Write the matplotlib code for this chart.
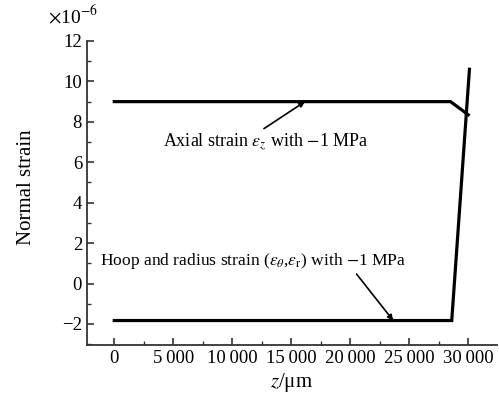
import numpy as np
import matplotlib
matplotlib.use("Agg")
from matplotlib import pyplot as plt
from matplotlib.ticker import MultipleLocator, FuncFormatter

plt.rcParams["font.family"] = ["Liberation Serif", "DejaVu Serif"]
plt.rcParams["mathtext.fontset"] = "stix"

# strain curves (x in um, strain in 1e-6)
axial_z = [0, 28500, 30000]
axial_strain = [9.0, 9.0, 8.35]
hoop_z = [0, 28600, 30100]
hoop_strain = [-1.83, -1.83, 10.6]

x_ticks = [0, 5000, 10000, 15000, 20000, 25000, 30000]
y_ticks = [-2, 0, 2, 4, 6, 8, 10, 12]

fig = plt.figure(figsize=(4.99, 3.98), dpi=100)
ax = fig.add_axes([0.1743, 0.1332, 0.8216, 0.7638])

ax.plot(axial_z, axial_strain, color="black", lw=2.3, solid_joinstyle="miter")
ax.plot(hoop_z, hoop_strain, color="black", lw=2.3, solid_joinstyle="miter")

ax.set_xlim(-2314, 32432)
ax.set_ylim(-3.04, 12)
ax.set_xticks(x_ticks)
ax.set_yticks(y_ticks)
ax.xaxis.set_minor_locator(MultipleLocator(2500))
ax.yaxis.set_minor_locator(MultipleLocator(1))
ax.xaxis.set_major_formatter(FuncFormatter(lambda v, p: f"{int(v):,}".replace(",", "\u2009")))
ax.yaxis.set_major_formatter(FuncFormatter(lambda v, p: f"{int(v)}".replace("-", "\u2212")))

for s in ("top", "right"):
    ax.spines[s].set_visible(False)
for s in ("left", "bottom"):
    ax.spines[s].set_linewidth(1.3)
    ax.spines[s].set_color("#333333")
ax.tick_params(which="major", direction="in", length=5, width=1.2, labelsize=13.5, color="#333333")
ax.tick_params(which="minor", direction="in", length=3, width=1.0, color="#333333")

ax.set_ylabel("Normal strain", fontsize=15)
ax.yaxis.set_label_coords(-0.125, 0.52)
ax.set_xlabel(r"$z$/μm", fontsize=15, labelpad=3)
fig.text(0.096, 0.943, r"$\times$10$^{-6}$", fontsize=14)

ax.annotate(r"Axial strain $\varepsilon_z$ with $-$1 MPa", xy=(16160, 9.0), xytext=(4150, 7.0),
            fontsize=13, va="center", ha="left",
            arrowprops=dict(arrowstyle="-|>", color="black", lw=1.2, mutation_scale=8,
                            shrinkA=0, shrinkB=0, relpos=(0.47, 1.0)))
ax.annotate(r"Hoop and radius strain ($\varepsilon_\theta$,$\varepsilon_\mathrm{r}$) with $-$1 MPa",
            xy=(23640, -1.83), xytext=(-1190, 1.1),
            fontsize=12.6, va="center", ha="left",
            arrowprops=dict(arrowstyle="-|>", color="black", lw=1.2, mutation_scale=8,
                            shrinkA=0, shrinkB=0, relpos=(0.83, 0.0)))

fig.savefig("out.png", dpi=100)
